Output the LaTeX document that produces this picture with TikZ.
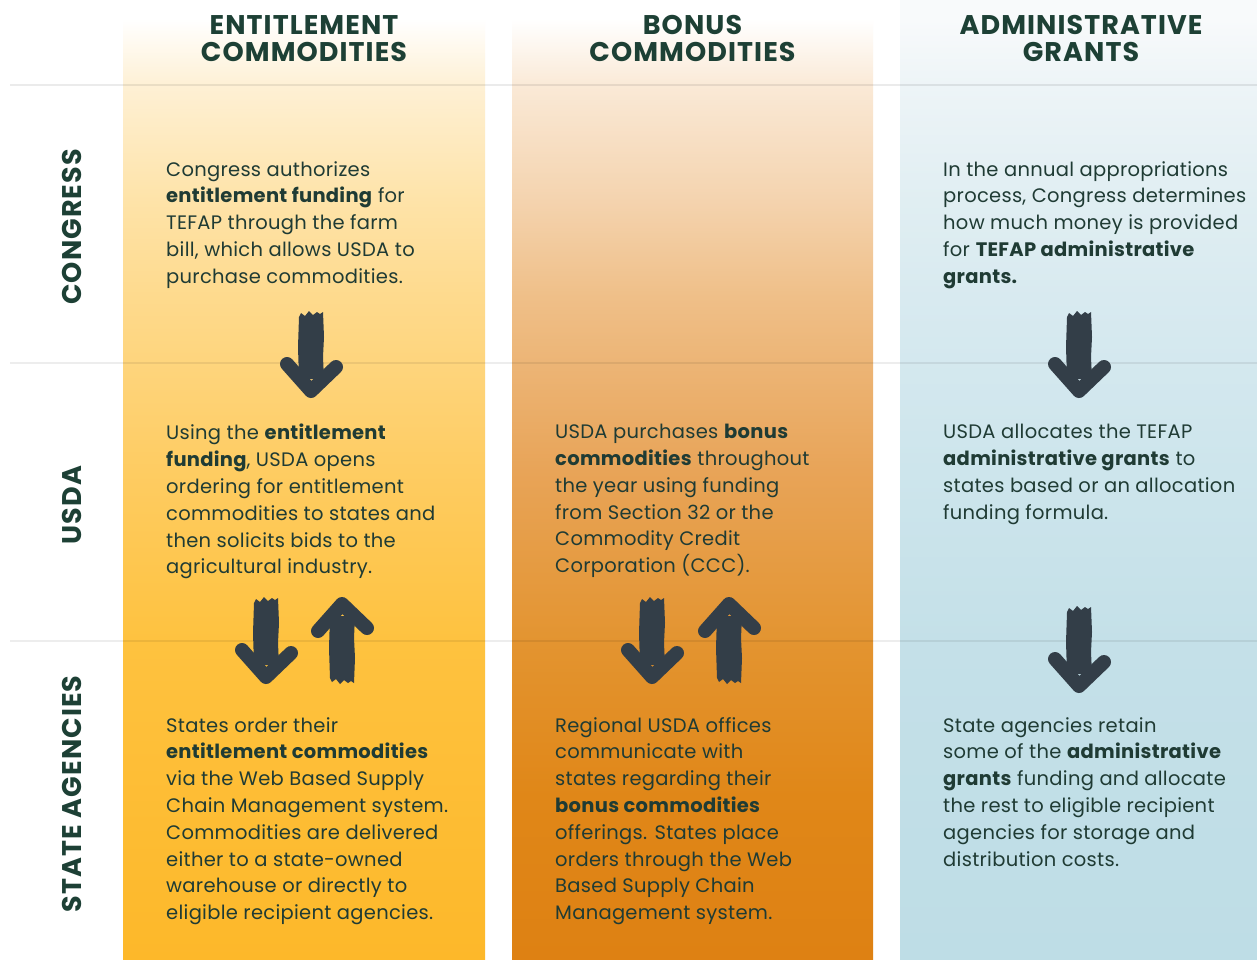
\documentclass[tikz,border=0pt]{standalone}
\usepackage{fontspec}
\setmainfont{Poppins}
\definecolor{txt}{HTML}{1F3B34}
\definecolor{hdr}{HTML}{1D4035}
\definecolor{arr}{HTML}{333E48}
\definecolor{gline}{HTML}{E2E2E2}
\definecolor{aA0}{HTML}{FDB82A}\definecolor{aA1}{HTML}{FEC23F}\definecolor{aA2}{HTML}{FECC62}
\definecolor{aA3}{HTML}{FEDA8D}\definecolor{aA4}{HTML}{FEE3A8}\definecolor{aA5}{HTML}{FEF0D4}
\definecolor{bA0}{HTML}{DE8113}\definecolor{bA1}{HTML}{E08718}\definecolor{bA2}{HTML}{E39430}
\definecolor{bA3}{HTML}{E8A458}\definecolor{bA4}{HTML}{EFBF88}\definecolor{bA5}{HTML}{F4D3AE}\definecolor{bA6}{HTML}{FAE9D6}
\definecolor{cA0}{HTML}{BEDDE6}\definecolor{cA1}{HTML}{C4E0E8}\definecolor{cA2}{HTML}{CDE5EC}
\definecolor{cA3}{HTML}{D8EAF0}\definecolor{cA4}{HTML}{E0EEF2}\definecolor{cA5}{HTML}{EDF4F7}\definecolor{cA6}{HTML}{F8FAFB}
% path bounding box maps to 25bp..75bp of the shading
\pgfdeclareverticalshading{shA}{100bp}{color(0bp)=(aA0); color(25bp)=(aA0); color(41.5bp)=(aA1); color(50.5bp)=(aA2); color(59.5bp)=(aA3); color(64.5bp)=(aA4); color(70.5bp)=(aA5); color(74bp)=(white); color(100bp)=(white)}
\pgfdeclareverticalshading{shB}{100bp}{color(0bp)=(bA0); color(25bp)=(bA0); color(33.5bp)=(bA1); color(41.5bp)=(bA2); color(50.5bp)=(bA3); color(59.5bp)=(bA4); color(64.5bp)=(bA5); color(70.5bp)=(bA6); color(74bp)=(white); color(100bp)=(white)}
\pgfdeclareverticalshading{shC}{100bp}{color(0bp)=(cA0); color(25bp)=(cA0); color(41.5bp)=(cA1); color(50.5bp)=(cA2); color(59.5bp)=(cA3); color(64.5bp)=(cA4); color(70.5bp)=(cA5); color(74bp)=(cA6); color(100bp)=(cA6)}
\tikzset{
  body/.style={anchor=north west, inner sep=0pt, align=left, text=txt,
    font=\fontsize{19.5}{26.8}\selectfont\addfontfeatures{LetterSpace=1.5}},
  hdrtext/.style={inner sep=0pt, align=center, text=hdr,
    font=\fontsize{27}{27}\selectfont\bfseries\addfontfeatures{LetterSpace=4}},
  rowlab/.style={inner sep=0pt, rotate=90, text=hdr,
    font=\fontsize{27}{27}\selectfont\bfseries\addfontfeatures{LetterSpace=4}},
  rowline/.style={draw=gline, line width=1.5pt},
  darrow/.pic={
    \fill[arr] (-12,-80) -- (-10,-84) -- (-6,-81) -- (-2,-86) -- (2,-82) -- (6,-85) -- (9,-83) -- (12,-85)
      -- (13,-60) -- (12,-40) -- (13,-18) -- (-12,-18) -- (-13,-50) -- cycle;
    \draw[arr, line width=14pt, line cap=round, line join=round] (-24,-33) -- (0,-6) -- (25,-30);
  },
}
\newcommand{\bb}[1]{\textbf{#1}}
\begin{document}
\begin{tikzpicture}[x=1pt,y=-1pt]
\useasboundingbox (0,0) rectangle (1257,959);
\fill[white] (0,0) rectangle (1257,959);
% columns
\shade[shading=shA] (123,0) rectangle (485,959);
\shade[shading=shB] (512,0) rectangle (873,959);
\shade[shading=shC] (900,0) rectangle (1257,959);
% row lines
\coordinate (l1a) at (10,85); \coordinate (l1b) at (1257,85);
\coordinate (l2a) at (10,363); \coordinate (l2b) at (1257,363);
\coordinate (l3a) at (10,641); \coordinate (l3b) at (1257,641);
\draw[rowline, draw=black, draw opacity=0.08] (l1a) -- (l1b);
\draw[rowline, draw=black, draw opacity=0.07] (l2a) -- (l2b);
\draw[rowline, draw=black, draw opacity=0.07] (l3a) -- (l3b);
% headers
\node[hdrtext] (h1) at (304,38.5) {ENTITLEMENT\\COMMODITIES};
\node[hdrtext] (h2) at (692.5,38.5) {BONUS\\COMMODITIES};
\node[hdrtext] (h3) at (1081,38.5) {ADMINISTRATIVE\\GRANTS};
% row labels
\node[rowlab] (r1) at (72,227) {CONGRESS};
\node[rowlab] (r2) at (72,505) {USDA};
\node[rowlab] (r3) at (72,794) {STATE AGENCIES};
% congress row
\node[body] (t11) at (166,161) {Congress authorizes\\\bb{entitlement funding} for\\TEFAP through the farm\\bill, which allows USDA to\\purchase commodities.};
\node[body] (t13) at (943,161) {In the annual appropriations\\process, Congress determines\\how much money is provided\\for \bb{TEFAP administrative}\\\bb{grants.}};
% usda row
\node[body] (t21) at (166,424) {Using the \bb{entitlement}\\\bb{funding}, USDA opens\\ordering for entitlement\\commodities to states and\\then solicits bids to the\\agricultural industry.};
\node[body] (t22) at (555,424) {USDA purchases \bb{bonus}\\\bb{commodities} throughout\\the year using funding\\from Section 32 or the\\Commodity Credit\\Corporation (CCC).};
\node[body] (t23) at (943,424) {USDA allocates the TEFAP\\\bb{administrative grants} to\\states based or an allocation\\funding formula.};
% state row
\node[body] (t31) at (166,717) {States order their\\\bb{entitlement commodities}\\via the Web Based Supply\\Chain Management system.\\Commodities are delivered\\either to a state-owned\\warehouse or directly to\\eligible recipient agencies.};
\node[body] (t32) at (555,717) {Regional USDA offices\\communicate with\\states regarding their\\\bb{bonus commodities}\\offerings. States place\\orders through the Web\\Based Supply Chain\\Management system.};
\node[body] (t33) at (943,717) {State agencies retain\\some of the \bb{administrative}\\\bb{grants} funding and allocate\\the rest to eligible recipient\\agencies for storage and\\distribution costs.};
% arrows
\pic at (311,397) {darrow};
\pic at (1079,397) {darrow};
\pic at (266,683) {darrow};
\pic[yscale=-1] at (342,598) {darrow};
\pic at (652,683) {darrow};
\pic[yscale=-1] at (729,598) {darrow};
\pic at (1079,692) {darrow};
\end{tikzpicture}
\end{document}
